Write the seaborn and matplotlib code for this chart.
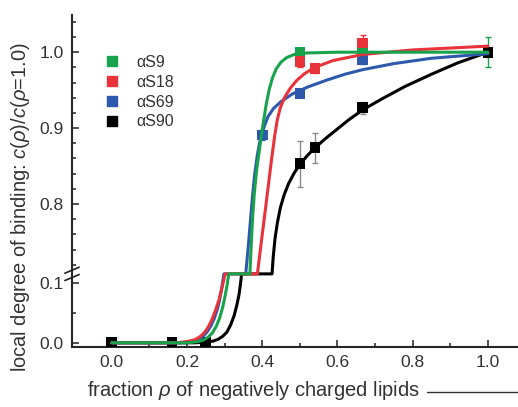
import numpy as np
import pandas as pd
import matplotlib
matplotlib.use("Agg")
import matplotlib.pyplot as plt
import seaborn as sns
from matplotlib.lines import Line2D
from matplotlib.ticker import FixedLocator, FormatStrFormatter

# ---------------- data ----------------
labels = ["αS9", "αS18", "αS69", "αS90"]
colors = ["#17a24b", "#e8333b", "#2d59ad", "#000000"]
err_colors = ["#17a24b", "#e8333b", "#2d59ad", "#8a8a8a"]

# measured points (rho, binding, error)
x_s9 = [0.0, 0.16, 0.25, 0.5, 0.667, 1.0]
y_s9 = [0.0, 0.0, 0.0, 1.0, 1.0, 1.0]
e_s9 = [0.0, 0.0, 0.0, 0.005, 0.005, 0.02]

x_s18 = [0.0, 0.16, 0.25, 0.5, 0.54, 0.667, 1.0]
y_s18 = [0.0, 0.0, 0.0, 0.988, 0.979, 1.012, 1.0]
e_s18 = [0.0, 0.0, 0.0, 0.008, 0.006, 0.01, 0.005]

x_s69 = [0.0, 0.16, 0.25, 0.4, 0.5, 0.667, 1.0]
y_s69 = [0.0, 0.0, 0.0, 0.891, 0.946, 0.99, 1.0]
e_s69 = [0.0, 0.0, 0.0, 0.006, 0.005, 0.006, 0.005]

x_s90 = [0.0, 0.16, 0.25, 0.5, 0.54, 0.667, 1.0]
y_s90 = [0.0, 0.0, 0.0, 0.853, 0.874, 0.927, 1.0]
e_s90 = [0.0, 0.0, 0.0, 0.03, 0.02, 0.008, 0.006]

# fitted curves
cx_s9 = [0.0, 0.2, 0.23, 0.245, 0.257, 0.268, 0.278, 0.287, 0.295, 0.301, 0.306, 0.311,
         0.367, 0.37, 0.374, 0.379, 0.385, 0.392, 0.399, 0.404, 0.41, 0.418, 0.427,
         0.437, 0.45, 0.465, 0.485, 0.52, 0.6, 1.0]
cy_s9 = [0.0, 0.0, 0.002, 0.005, 0.01, 0.017, 0.028, 0.042, 0.06, 0.078, 0.095, 0.115,
         0.708, 0.74, 0.78, 0.815, 0.845, 0.87, 0.895, 0.911, 0.93, 0.95, 0.966,
         0.978, 0.987, 0.993, 0.997, 0.999, 1.0, 1.0]

cx_s18 = [0.0, 0.17, 0.2, 0.22, 0.234, 0.246, 0.257, 0.267, 0.276, 0.284, 0.291, 0.297, 0.301,
          0.387, 0.395, 0.405, 0.415, 0.425, 0.433, 0.44, 0.448, 0.46, 0.475, 0.492,
          0.513, 0.54, 0.588, 0.667, 0.8, 1.0]
cy_s18 = [0.0, 0.0, 0.002, 0.005, 0.01, 0.017, 0.027, 0.04, 0.055, 0.07, 0.087, 0.103, 0.115,
          0.708, 0.74, 0.78, 0.82, 0.86, 0.89, 0.911, 0.927, 0.941, 0.953, 0.963,
          0.972, 0.98, 0.989, 0.997, 1.003, 1.008]

cx_s69 = [0.0, 0.18, 0.21, 0.23, 0.243, 0.253, 0.263, 0.272, 0.28, 0.286, 0.291, 0.295, 0.298,
          0.356, 0.362, 0.368, 0.374, 0.38, 0.387, 0.395, 0.405, 0.415, 0.43, 0.45,
          0.48, 0.52, 0.57, 0.62, 0.667, 0.75, 0.85, 1.0]
cy_s69 = [0.0, 0.0, 0.002, 0.006, 0.011, 0.018, 0.028, 0.04, 0.055, 0.07, 0.087, 0.103, 0.115,
          0.708, 0.74, 0.775, 0.81, 0.84, 0.865, 0.886, 0.902, 0.915, 0.926, 0.935,
          0.945, 0.954, 0.963, 0.971, 0.977, 0.985, 0.992, 0.998]

cx_s90 = [0.0, 0.22, 0.25, 0.27, 0.283, 0.295, 0.306, 0.316, 0.325, 0.332, 0.338, 0.342, 0.345,
          0.426, 0.429, 0.434, 0.44, 0.448, 0.458, 0.47, 0.485, 0.5, 0.52, 0.54,
          0.565, 0.595, 0.63, 0.667, 0.72, 0.78, 0.85, 0.92, 1.0]
cy_s90 = [0.0, 0.0, 0.001, 0.003, 0.006, 0.011, 0.018, 0.03, 0.045, 0.062, 0.08, 0.098, 0.115,
          0.708, 0.73, 0.755, 0.775, 0.795, 0.812, 0.827, 0.841, 0.852, 0.864, 0.874,
          0.885, 0.897, 0.911, 0.924, 0.939, 0.955, 0.971, 0.986, 1.0]

# axis break: values between LO_TOP and HI_BOT are collapsed
LO_TOP, HI_BOT = 0.115, 0.708
K_LO, K_HI = 600.0, 760.0


def fwd(y):
    y = np.asarray(y, dtype=float)
    return np.where(y <= LO_TOP, y * K_LO,
                    np.where(y < HI_BOT, LO_TOP * K_LO, LO_TOP * K_LO + (y - HI_BOT) * K_HI))


def inv(d):
    d = np.asarray(d, dtype=float)
    return np.where(d <= LO_TOP * K_LO, d / K_LO, HI_BOT + (d - LO_TOP * K_LO) / K_HI)


pts = pd.concat([
    pd.DataFrame({"rho": x, "c": y, "err": e, "peptide": lab})
    for x, y, e, lab in zip([x_s9, x_s18, x_s69, x_s90], [y_s9, y_s18, y_s69, y_s90],
                            [e_s9, e_s18, e_s69, e_s90], labels)
], ignore_index=True)

curves = pd.concat([
    pd.DataFrame({"rho": x, "c": y, "peptide": lab})
    for x, y, lab in zip([cx_s9, cx_s18, cx_s69, cx_s90], [cy_s9, cy_s18, cy_s69, cy_s90], labels)
], ignore_index=True)

# ---------------- style ----------------
sns.set_theme(style="ticks")
plt.rcParams["font.family"] = ["Liberation Sans", "DejaVu Sans"]
plt.rcParams["mathtext.fontset"] = "custom"
plt.rcParams["mathtext.rm"] = "Liberation Sans"
plt.rcParams["mathtext.it"] = "Liberation Sans:italic"
plt.rcParams["axes.linewidth"] = 1.5

palette = dict(zip(labels, colors))

fig = plt.figure(figsize=(5.18, 4.07), dpi=100)
ax = fig.add_axes([72 / 518, 1 - 347 / 407, 446 / 518, 332 / 407])

# error bars + markers
for lab, ec in zip(labels, err_colors):
    d = pts[(pts["peptide"] == lab) & (pts["err"] > 0)]
    ax.errorbar(d["rho"], d["c"], yerr=d["err"], fmt="none", ecolor=ec,
                elinewidth=1.0, capsize=2.5, capthick=1.0, zorder=2)

sns.scatterplot(data=pts, x="rho", y="c", hue="peptide", hue_order=labels,
                palette=palette, marker="s", s=60, linewidth=0, legend=False,
                ax=ax, zorder=3)

sns.lineplot(data=curves, x="rho", y="c", hue="peptide",
             hue_order=["αS90", "αS69", "αS18", "αS9"], palette=palette,
             estimator=None, sort=False, linewidth=2.2, legend=False,
             ax=ax, zorder=4)

ax.set_yscale("function", functions=(fwd, inv))
ax.set_ylim(-0.007, 1.049)
ax.set_xlim(-0.106, 1.08)

ax.yaxis.set_major_locator(FixedLocator([0.0, 0.1, 0.8, 0.9, 1.0]))
ax.yaxis.set_minor_locator(FixedLocator([0.05, 0.72, 0.74, 0.76, 0.78, 0.82, 0.84, 0.86, 0.88,
                                         0.92, 0.94, 0.96, 0.98, 1.02, 1.04]))
ax.yaxis.set_major_formatter(FormatStrFormatter("%.1f"))
ax.xaxis.set_major_locator(FixedLocator([0.0, 0.2, 0.4, 0.6, 0.8, 1.0]))
ax.xaxis.set_minor_locator(FixedLocator([0.1, 0.3, 0.5, 0.7, 0.9]))
ax.xaxis.set_major_formatter(FormatStrFormatter("%.1f"))

ax.tick_params(which="both", direction="in", width=1.1, labelsize=12.5, colors="#222222",
               labelcolor="#333333")
ax.tick_params(which="major", length=5, pad=6)
ax.tick_params(which="minor", length=3)
ax.spines["top"].set_visible(False)
ax.spines["right"].set_visible(False)
ax.set_xlabel("")
ax.set_ylabel("")

# break marks on the y axis
brk = (fwd(LO_TOP) - fwd(-0.007)) / (fwd(1.049) - fwd(-0.007))
for off in (0.011, -0.011):
    ax.plot([-0.016, 0.016], [brk + off - 0.009, brk + off + 0.009], color="#222222",
            lw=1.2, transform=ax.transAxes, clip_on=False, zorder=5)

# legend
handles = [Line2D([], [], marker="s", ls="", color=c, markersize=7.5) for c in colors]
ax.legend(handles, labels, loc="upper left", bbox_to_anchor=(96 / 518, 1 - 47 / 407),
          bbox_transform=fig.transFigure, frameon=False, fontsize=11.5,
          handlelength=1.0, handletextpad=1.0, labelspacing=0.3, borderpad=0,
          labelcolor="#333333")

fig.text(0.04, 0.49, r"local degree of binding: $c$($\rho$)/$c$($\rho$=1.0)",
         rotation=90, ha="center", va="center", fontsize=14.5, color="#333333")
fig.text(253 / 518, 1 - 390 / 407, r"fraction $\rho$ of negatively charged lipids",
         ha="center", va="center", fontsize=14.5, color="#333333")
fig.add_artist(Line2D([427 / 518, 1.0], [1 - 392 / 407] * 2, color="#333333", lw=1.0,
                      transform=fig.transFigure))

fig.savefig("out.png", dpi=100)
